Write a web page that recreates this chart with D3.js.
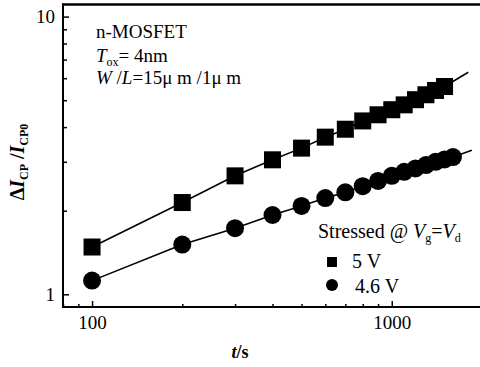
<!DOCTYPE html>
<html>
<head>
<meta charset="utf-8">
<script src="https://cdn.jsdelivr.net/npm/d3@7"></script>
<style>
  body { margin: 0; background: #fff; }
  svg { display: block; }
  svg text { font-family: "Liberation Serif", "Times New Roman", Times, serif !important; fill: #000; }
</style>
</head>
<body>
<svg id="chart" width="480" height="367"></svg>
<script>
// stress time (s) and relative CP current increase
const tSquare = [100, 200, 300, 400, 500, 600, 700, 800, 900, 1000, 1100, 1200, 1300, 1400, 1500];
const vSquare = [1.48, 2.14, 2.67, 3.05, 3.36, 3.68, 3.93, 4.21, 4.43, 4.62, 4.81, 5.02, 5.23, 5.42, 5.60];
const tCircle = [100, 200, 300, 400, 500, 600, 700, 800, 900, 1000, 1100, 1200, 1300, 1400, 1500, 1600];
const vCircle = [1.12, 1.51, 1.73, 1.93, 2.08, 2.22, 2.33, 2.45, 2.56, 2.67, 2.76, 2.84, 2.92, 3.00, 3.06, 3.12];
// where the fitted lines run past the last point
const tailSquare = [1800, 6.3];
const tailCircle = [1850, 3.3];

const xMajor = [100, 1000];
const xMinor = [80, 90, 200, 300, 400, 500, 600, 700, 800, 900, 2000];
const yMajor = [1, 10];
const yMinor = [2, 3, 4, 5, 6, 7, 8, 9];

const svg = d3.select("#chart");

const x = d3.scaleLog().domain([80, 2000]).range([63, 482]);
const y = d3.scaleLog().domain([0.9, 11.1]).range([307, 4]);

// axes: ticks point into the plot
const gx = svg.append("g").attr("transform", `translate(0,${y.range()[0]})`);
gx.call(d3.axisBottom(x).tickValues(xMinor).tickSize(-3).tickFormat(""))
  .select(".domain").remove();
gx.append("g").call(d3.axisBottom(x).tickValues(xMajor).tickSize(-6).tickPadding(9)
    .tickFormat(d3.format("d")))
  .call(g => g.select(".domain").remove())
  .call(g => g.selectAll("text").attr("font-size", 19));
gx.selectAll("line").attr("stroke-width", 1.5);

const gy = svg.append("g").attr("transform", `translate(${x.range()[0]},0)`);
gy.call(d3.axisLeft(y).tickValues(yMinor).tickSize(-4).tickFormat(""))
  .select(".domain").remove();
gy.append("g").call(d3.axisLeft(y).tickValues(yMajor).tickSize(-6).tickPadding(8)
    .tickFormat(d3.format("d")))
  .call(g => g.select(".domain").remove())
  .call(g => g.selectAll("text").attr("font-size", 19));
gy.selectAll("line").attr("stroke-width", 1.5);

// frame lines
svg.append("line").attr("x1", 63).attr("x2", 480).attr("y1", 307).attr("y2", 307)
  .attr("stroke", "#000").attr("stroke-width", 2);
svg.append("line").attr("x1", 63).attr("x2", 63).attr("y1", 3.5).attr("y2", 308)
  .attr("stroke", "#000").attr("stroke-width", 2);
svg.append("line").attr("x1", 62).attr("x2", 480).attr("y1", 4.5).attr("y2", 4.5)
  .attr("stroke", "#000").attr("stroke-width", 2.5);

// fitted lines
const line = d3.line().x(d => x(d[0])).y(d => y(d[1]));
const sqPts = tSquare.map((t, i) => [t, vSquare[i]]).concat([tailSquare]);
const ciPts = tCircle.map((t, i) => [t, vCircle[i]]).concat([tailCircle]);
svg.append("path").attr("d", line(sqPts)).attr("fill", "none").attr("stroke", "#000").attr("stroke-width", 1.6);
svg.append("path").attr("d", line(ciPts)).attr("fill", "none").attr("stroke", "#000").attr("stroke-width", 1.6);

// markers
const sq = 17;
svg.append("g").selectAll("rect").data(tSquare).join("rect")
  .attr("x", (d) => x(d) - sq / 2)
  .attr("y", (d, i) => y(vSquare[i]) - sq / 2)
  .attr("width", sq).attr("height", sq).attr("fill", "#000");
svg.append("g").selectAll("circle").data(tCircle).join("circle")
  .attr("cx", (d) => x(d))
  .attr("cy", (d, i) => y(vCircle[i]))
  .attr("r", 9).attr("fill", "#000");

// annotations
const note = svg.append("g").attr("font-size", 19);
note.append("text").attr("x", 96).attr("y", 38).text("n-MOSFET");
const tox = note.append("text").attr("x", 96).attr("y", 62);
tox.append("tspan").attr("font-style", "italic").text("T");
tox.append("tspan").attr("font-size", 12).attr("dy", 4).text("ox");
tox.append("tspan").attr("dy", -4).text("= 4nm");
const wl = note.append("text").attr("x", 96).attr("y", 84);
wl.append("tspan").attr("font-style", "italic").text("W");
wl.append("tspan").text(" /");
wl.append("tspan").attr("font-style", "italic").text("L");
wl.append("tspan").text("=15μ m /1μ m");

// y label
const yl = svg.append("text")
  .attr("transform", "translate(24,162) rotate(-90)")
  .attr("text-anchor", "middle").attr("font-size", 20).attr("font-weight", "bold");
yl.append("tspan").text("Δ");
yl.append("tspan").attr("font-style", "italic").text("I");
yl.append("tspan").attr("font-size", 12).attr("dy", 4).text("CP");
yl.append("tspan").attr("dy", -4).text(" /");
yl.append("tspan").attr("font-style", "italic").text("I");
yl.append("tspan").attr("font-size", 12).attr("dy", 4).text("CP0");

// x label
const xl = svg.append("text").attr("x", 240).attr("y", 358).attr("text-anchor", "middle")
  .attr("font-size", 18).attr("font-weight", "bold");
xl.append("tspan").attr("font-style", "italic").text("t");
xl.append("tspan").text("/s");

// legend
const leg = svg.append("g").attr("font-size", 20);
const lt = leg.append("text").attr("x", 318).attr("y", 238);
lt.append("tspan").text("Stressed @ ");
lt.append("tspan").attr("font-style", "italic").text("V");
lt.append("tspan").attr("font-size", 12).attr("dy", 4).text("g");
lt.append("tspan").attr("dy", -4).text("=");
lt.append("tspan").attr("font-style", "italic").text("V");
lt.append("tspan").attr("font-size", 12).attr("dy", 4).text("d");
leg.append("rect").attr("x", 327).attr("y", 257).attr("width", 10).attr("height", 10).attr("fill", "#000");
leg.append("text").attr("x", 352).attr("y", 268).text("5 V");
leg.append("circle").attr("cx", 332).attr("cy", 285).attr("r", 6).attr("fill", "#000");
leg.append("text").attr("x", 355).attr("y", 293).text("4.6 V");
</script>
</body>
</html>
